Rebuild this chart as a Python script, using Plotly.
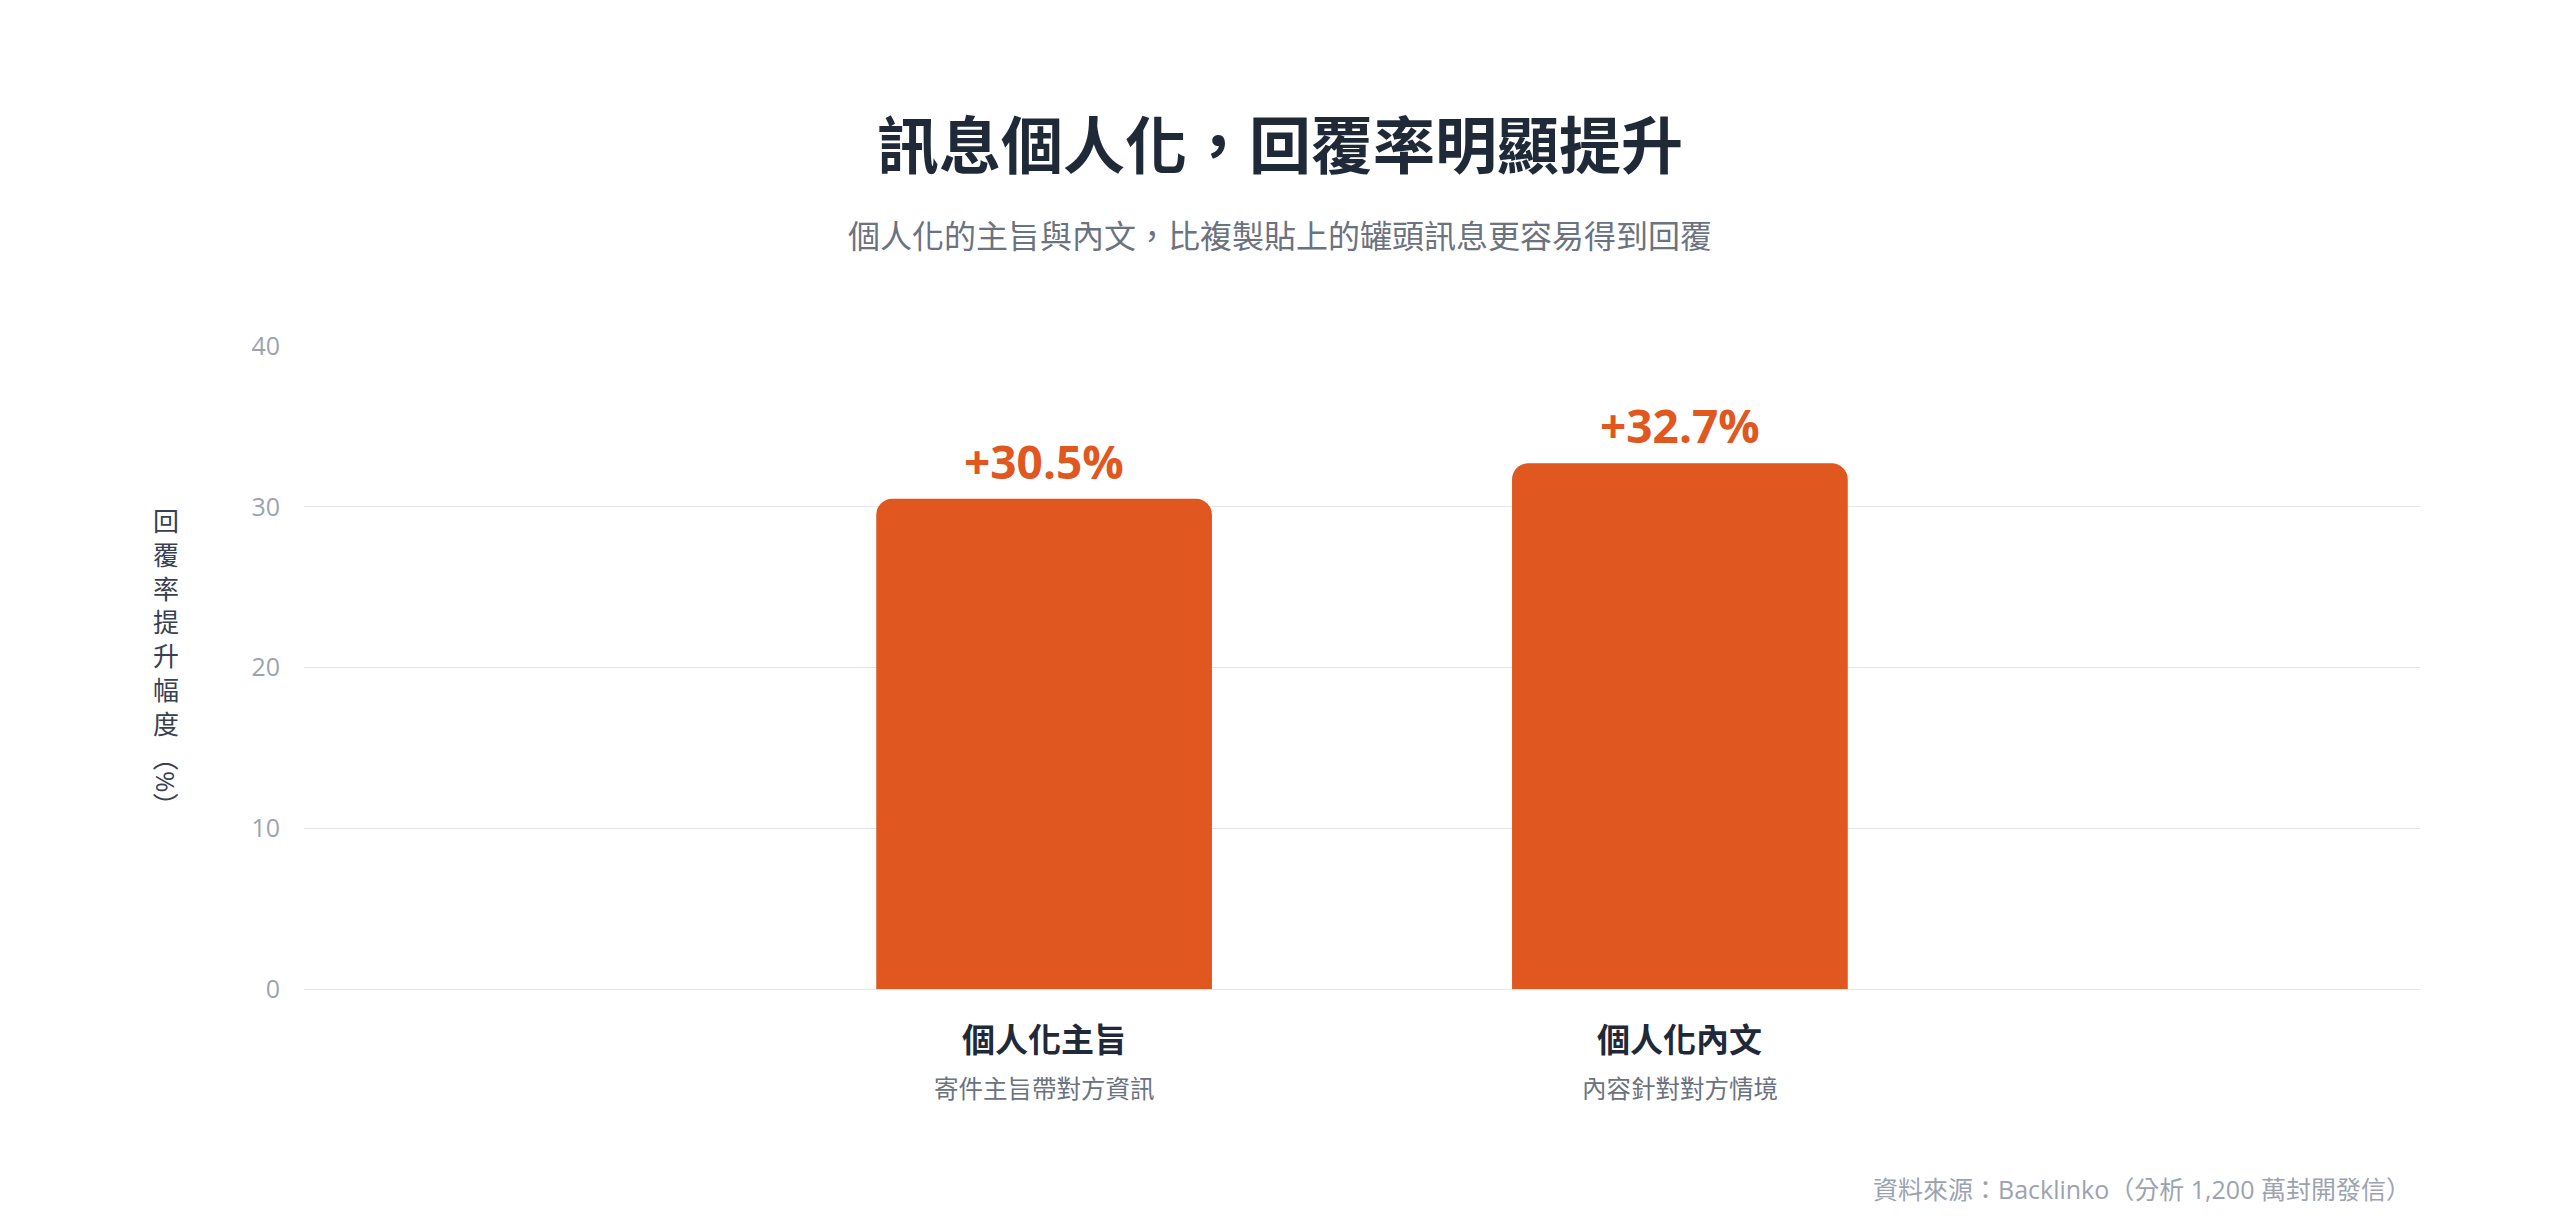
import plotly.graph_objects as go

# ---- data ----
categories = ["個人化主旨", "個人化內文"]
sublabels = ["寄件主旨帶對方資訊", "內容針對對方情境"]
uplift = [30.5, 32.7]
y_ticks = [0, 10, 20, 30, 40]

title_text = "訊息個人化，回覆率明顯提升"
subtitle_text = "個人化的主旨與內文，比複製貼上的罐頭訊息更容易得到回覆"
ytitle_chars = ["回", "覆", "率", "提", "升", "幅", "度"]
ytitle_unit = "（%）"
source_text = "資料來源：Backlinko（分析 1,200 萬封開發信）"

# ---- styles ----
FONT = "Open Sans, Noto Sans CJK TC, sans-serif"
ORANGE = "#E0571F"
DARK = "#1F2937"
MID = "#374151"
GRAY = "#6B7280"
LIGHT = "#9CA3AF"
GRID = "#E3E5EA"

W, H = 2560, 1226
OFF = 8  # page body margin
# plot area in page pixels
PL, PR, PT, PB = 304, 2420, 346, 989
L = PL - OFF
R = W - (PR - OFF)
T = PT - OFF
B = H - (PB - OFF)


def py(page_y):
    return (PB - page_y) / (PB - PT)


def px(page_x):
    return (page_x - PL) / (PR - PL)


fig = go.Figure()
fig.add_trace(go.Bar(
    x=categories,
    y=uplift,
    width=0.528,
    marker=dict(color=ORANGE, line=dict(width=0), cornerradius=16),
    hoverinfo="skip",
))

annotations = []
# value labels above bars
for c, v in zip(categories, uplift):
    annotations.append(dict(
        x=c, y=v, xref="x", yref="y", text=f"<b>+{v}%</b>",
        showarrow=False, yanchor="bottom", yshift=5,
        font=dict(family=FONT, size=46, color=ORANGE),
    ))
# category labels (two lines)
for c, s in zip(categories, sublabels):
    annotations.append(dict(
        x=c, y=py(1039), xref="x", yref="paper", text=f"<b>{c}</b>",
        showarrow=False, yanchor="middle",
        font=dict(family=FONT, size=33, color=DARK),
    ))
    annotations.append(dict(
        x=c, y=py(1088), xref="x", yref="paper", text=s,
        showarrow=False, yanchor="middle",
        font=dict(family=FONT, size=24.5, color=GRAY),
    ))
# vertical y-axis title
annotations.append(dict(
    x=px(166), y=py(622), xref="paper", yref="paper",
    text="<br>".join(ytitle_chars),
    showarrow=False, xanchor="center", yanchor="middle",
    font=dict(family=FONT, size=26, color=MID),
))
annotations.append(dict(
    x=px(166), y=py(782), xref="paper", yref="paper",
    text=ytitle_unit, textangle=90,
    showarrow=False, xanchor="center", yanchor="middle",
    font=dict(family=FONT, size=26, color=MID),
))
# subtitle
annotations.append(dict(
    x=px(W / 2), y=py(236), xref="paper", yref="paper",
    text=subtitle_text, showarrow=False, xanchor="center", yanchor="middle",
    font=dict(family=FONT, size=32, color=GRAY),
))
# source
annotations.append(dict(
    x=px(2413), y=py(1189), xref="paper", yref="paper",
    text=source_text, showarrow=False, xanchor="right", yanchor="middle",
    font=dict(family=FONT, size=25, color=LIGHT),
))

fig.update_layout(
    width=W, height=H,
    margin=dict(l=L, r=R, t=T, b=B),
    paper_bgcolor="white", plot_bgcolor="white",
    showlegend=False,
    title=dict(
        text=f"<b>{title_text}</b>", x=(W / 2 - OFF) / W, xref="container", xanchor="center",
        y=1 - (147 - OFF) / H, yref="container", yanchor="middle",
        font=dict(family=FONT, size=62, color=DARK),
    ),
    xaxis=dict(
        type="category", range=[-1.164, 2.164],
        showticklabels=False, showgrid=False, zeroline=False, showline=False,
        ticks="",
    ),
    yaxis=dict(
        range=[0, 40], tickvals=y_ticks,
        tickfont=dict(family=FONT, size=25, color=LIGHT),
        ticks="outside", ticklen=18, tickcolor="rgba(0,0,0,0)",
        showgrid=True, gridcolor=GRID, gridwidth=1,
        zeroline=True, zerolinecolor=GRID, zerolinewidth=1,
        showline=False,
    ),
    annotations=annotations,
    font=dict(family=FONT),
)

fig.write_html("out.html")
